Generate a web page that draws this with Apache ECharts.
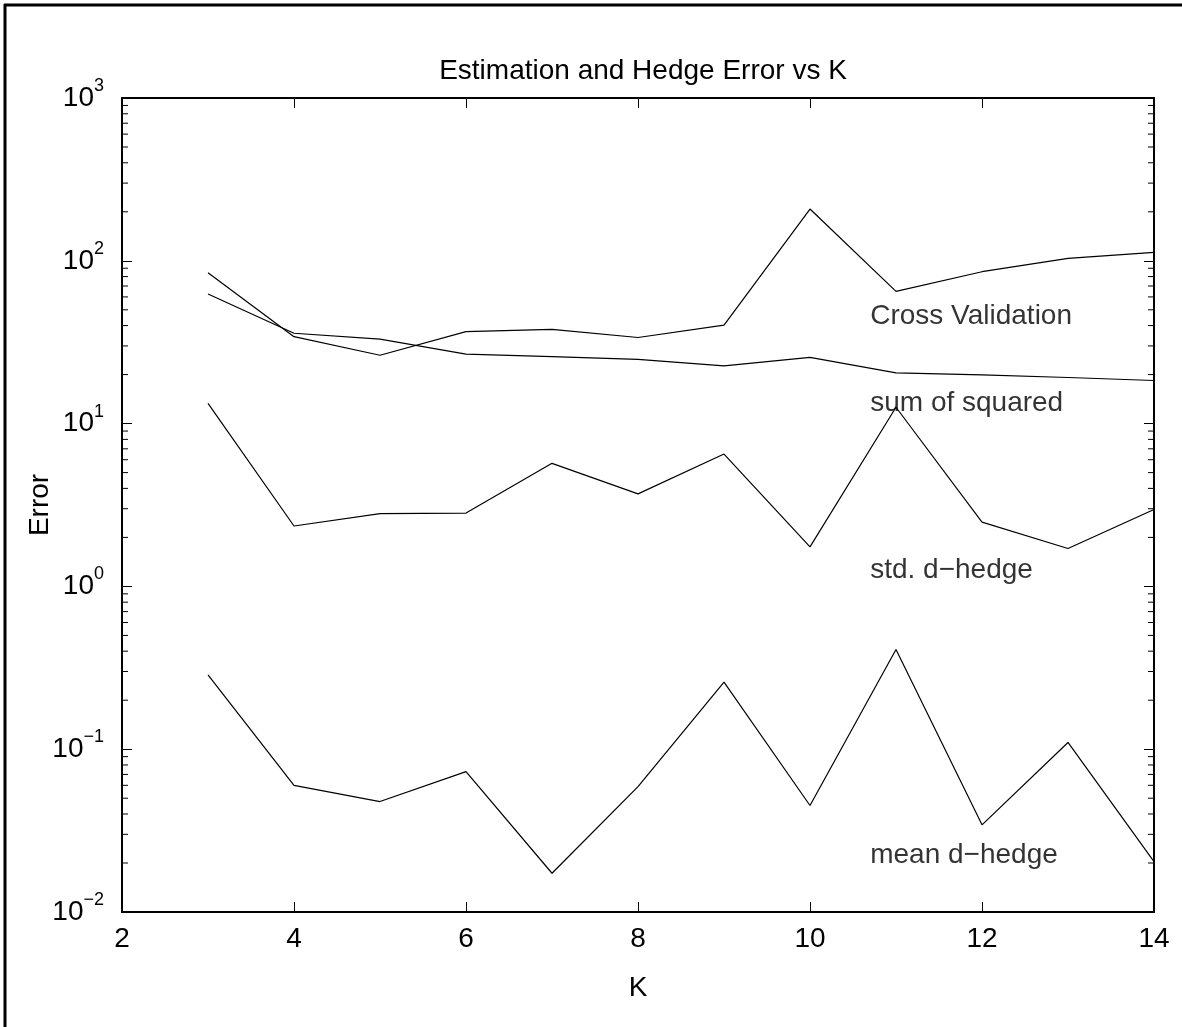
<!DOCTYPE html>
<html>
<head>
<meta charset="utf-8">
<script src="https://cdn.jsdelivr.net/npm/echarts@6/dist/echarts.min.js"></script>
<style>
  html, body { margin: 0; padding: 0; background: #fff; }
  #chart { width: 1182px; height: 1027px; }
</style>
</head>
<body>
<div id="chart"></div>
<script>
const kValues = [3, 4, 5, 6, 7, 8, 9, 10, 11, 12, 13, 14]
const crossValidation = [84.5, 34.2, 26.3, 36.7, 37.9, 33.8, 40.3, 208, 64.9, 85.7, 103.6, 112.8]
const sumOfSquared = [62.5, 35.9, 33.0, 26.7, 25.8, 24.8, 22.6, 25.5, 20.5, 19.9, 19.2, 18.4]
const stdDHedge = [13.3, 2.35, 2.80, 2.82, 5.70, 3.70, 6.50, 1.75, 12.6, 2.48, 1.71, 2.97]
const meanDHedge = [0.286, 0.060, 0.0477, 0.0728, 0.0173, 0.0589, 0.258, 0.0451, 0.410, 0.0343, 0.110, 0.0204]
const xTicks = [2, 4, 6, 8, 10, 12, 14]
const yMajorTicks = [0.01, 0.1, 1, 10, 100, 1000]
const textNotes = [
  [10.7, 45.8, 'Cross Validation'],
  [10.7, 13.4, 'sum of squared'],
  [10.7, 1.26, 'std. d\u2212hedge'],
  [10.7, 0.0224, 'mean d\u2212hedge']
]

const fontFamily = '"Liberation Sans", Arial, Helvetica, sans-serif'
const minorTicks = []
for (let i = 0; i < yMajorTicks.length - 1; i++) {
  for (let m = 2; m <= 9; m++) {
    minorTicks.push(yMajorTicks[i] * m)
  }
}

function pairs(values) {
  return kValues.map(function(k, i) {
    return [k, values[i]]
  })
}

function logLabel(value) {
  const exp = Math.round(Math.log10(value))
  const expText = exp < 0 ? '\u2212' + Math.abs(exp) : String(exp)
  return '{base|10}{sup|' + expText + '}'
}

const chart = echarts.init(document.getElementById('chart'))

const lineSeries = function(name, values) {
  return {
    name: name,
    type: 'line',
    data: pairs(values),
    showSymbol: false,
    symbol: 'none',
    lineStyle: { color: '#000', width: 1.2 },
    animation: false
  }
}

const option = {
  backgroundColor: '#fff',
  animation: false,
  textStyle: { fontFamily: fontFamily },
  title: {
    text: 'Estimation and Hedge Error vs K',
    left: 638,
    textAlign: 'center',
    top: 52,
    textStyle: { fontSize: 28, fontWeight: 'normal', color: '#000', fontFamily: fontFamily }
  },
  grid: {
    left: 122,
    top: 98,
    right: 28,
    bottom: 115,
    containLabel: false
  },
  xAxis: [
    {
      type: 'value',
      min: 2,
      max: 14,
      interval: 2,
      name: 'K',
      nameLocation: 'middle',
      nameGap: 62,
      nameMoveOverlap: false,
      nameTextStyle: { fontSize: 28, color: '#000', fontFamily: fontFamily },
      axisLine: { show: true, lineStyle: { color: '#000', width: 2 } },
      axisTick: { show: true, inside: true, length: 10, lineStyle: { color: '#000', width: 1 } },
      axisLabel: {
        fontSize: 28,
        color: '#000',
        margin: 13,
        fontFamily: fontFamily,
        customValues: xTicks
      },
      splitLine: { show: false }
    },
    {
      type: 'value',
      position: 'top',
      min: 2,
      max: 14,
      interval: 2,
      axisLine: { show: true, lineStyle: { color: '#000', width: 2 } },
      axisTick: { show: true, inside: true, length: 10, lineStyle: { color: '#000', width: 1 } },
      axisLabel: { show: false },
      splitLine: { show: false }
    }
  ],
  yAxis: [
    {
      type: 'log',
      logBase: 10,
      min: 0.01,
      max: 1000,
      splitNumber: 5,
      name: 'Error',
      nameLocation: 'middle',
      nameGap: 68,
      nameMoveOverlap: false,
      nameRotate: 90,
      nameTextStyle: { fontSize: 28, color: '#000', fontFamily: fontFamily },
      axisLine: { show: true, lineStyle: { color: '#000', width: 2 } },
      axisTick: { show: true, inside: true, length: 10, lineStyle: { color: '#000', width: 1 } },
      axisLabel: {
        color: '#000',
        margin: 18,
        formatter: logLabel,
        rich: {
          base: { fontSize: 28, color: '#000', fontFamily: fontFamily },
          sup: { fontSize: 18, color: '#000', fontFamily: fontFamily, padding: [0, 0, 24, 0] }
        }
      },
      splitLine: { show: false }
    },
    {
      type: 'log',
      logBase: 10,
      min: 0.01,
      max: 1000,
      splitNumber: 5,
      position: 'right',
      axisLine: { show: true, lineStyle: { color: '#000', width: 2 } },
      axisTick: { show: true, inside: true, length: 10, lineStyle: { color: '#000', width: 1 } },
      axisLabel: { show: false },
      splitLine: { show: false }
    }
  ],
  series: [
    lineSeries('Cross Validation', crossValidation),
    lineSeries('sum of squared', sumOfSquared),
    lineSeries('std. d-hedge', stdDHedge),
    lineSeries('mean d-hedge', meanDHedge),
    {
      type: 'custom',
      silent: true,
      data: minorTicks.map(function(v) { return [2, v] }),
      renderItem: function(params, api) {
        const v = api.value(1)
        const l = api.coord([2, v])
        const r = api.coord([14, v])
        return {
          type: 'group',
          children: [
            { type: 'line', shape: { x1: l[0], y1: l[1], x2: l[0] + 6, y2: l[1] }, style: { stroke: '#000', lineWidth: 1 } },
            { type: 'line', shape: { x1: r[0] - 6, y1: r[1], x2: r[0], y2: r[1] }, style: { stroke: '#000', lineWidth: 1 } }
          ]
        }
      }
    },
    {
      type: 'scatter',
      silent: true,
      symbolSize: 0,
      itemStyle: { color: '#000' },
      data: textNotes.map(function(t) { return { value: [t[0], t[1]], note: t[2] } }),
      label: {
        show: true,
        position: 'right',
        distance: 0,
        verticalAlign: 'middle',
        fontSize: 28,
        color: '#000',
        textBorderWidth: 0,
        fontFamily: fontFamily,
        formatter: function(p) { return p.data.note }
      }
    }
  ],
  graphic: [
    { type: 'line', shape: { x1: 5, y1: 4, x2: 5, y2: 1027 }, style: { stroke: '#000', lineWidth: 3 } },
    { type: 'line', shape: { x1: 4, y1: 5, x2: 1182, y2: 5 }, style: { stroke: '#000', lineWidth: 3 } }
  ]
}

chart.setOption(option)
</script>
</body>
</html>
